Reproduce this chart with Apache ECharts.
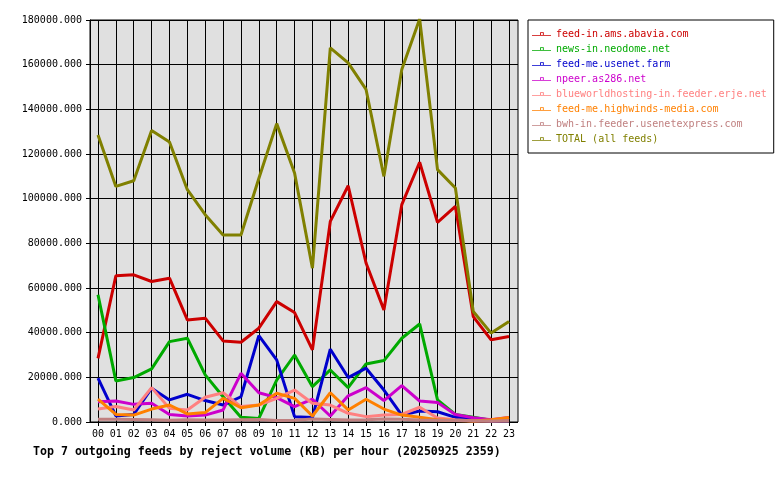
<!DOCTYPE html>
<html><head><meta charset="utf-8">
<script src="https://cdn.jsdelivr.net/npm/echarts@6/dist/echarts.min.js"></script>
<style>html,body{margin:0;padding:0;background:#fff}#c{width:780px;height:480px}</style>
</head><body><div id="c"></div>
<script>
const hours = ['00','01','02','03','04','05','06','07','08','09','10','11','12','13','14','15','16','17','18','19','20','21','22','23'];
const feedNames = ['feed-in.ams.abavia.com','news-in.neodome.net','feed-me.usenet.farm','npeer.as286.net','blueworldhosting-in.feeder.erje.net','feed-me.highwinds-media.com','bwh-in.feeder.usenetexpress.com','TOTAL (all feeds)'];
const feedColors = ['#cc0000','#00aa00','#0000cc','#cc00cc','#ff8080','#ff8000','#c08080','#808000'];
const amsAbavia = [28500,65500,65900,62900,64400,45700,46500,36300,35700,42000,53900,49000,32300,89800,105800,71200,50200,97300,116300,89400,96500,47200,36800,38300];
const neodome = [57000,18400,19900,23800,36000,37500,21100,11300,2100,1600,18800,30000,15800,23300,15400,26000,27500,37500,43900,9900,3400,2100,800,500];
const usenetFarm = [19600,2700,3400,15100,9900,12400,9600,7600,11300,38700,27800,2400,2000,32600,19900,24100,14300,3100,4900,4600,2100,1000,500,500];
const as286 = [9100,9400,7900,8400,3400,2700,3100,5400,21800,13100,10900,6900,10200,2700,11700,15400,9600,16300,9400,8700,3400,1900,1000,2000];
const blueworld = [5800,6900,5400,15400,6100,5400,11100,13100,6900,7600,10600,14300,8400,7600,3900,2400,3100,3400,6600,1800,1000,500,500,500];
const highwinds = [10200,3400,3100,5800,7600,3600,4200,10600,6400,7600,12900,10600,2700,13100,5400,10200,5800,3100,2100,1000,700,500,1000,2000];
const usenetExpress = [1200,1200,1100,1000,800,1000,900,900,1000,1100,700,800,1300,1100,900,1000,1300,1200,900,800,700,600,500,700];
const total = [128500,105500,108000,130500,125400,104000,92800,83700,83700,109000,133600,111500,68900,167500,160800,148900,110000,157800,180500,113000,104800,49500,39800,45000];
const seriesData = [amsAbavia,neodome,usenetFarm,as286,blueworld,highwinds,usenetExpress,total];

const FONT = '"DejaVu Sans Mono", monospace';
const legendIcon = 'path://M0 4L9 4L9 1L13 1L13 4L21 4L21 5L0 5Z M10 2L10 4L12 4L12 2Z';
const chart = echarts.init(document.getElementById('c'), null, {renderer:'canvas'});
chart.setOption({
  animation:false,
  backgroundColor:'#fff',
  title:{text:'Top 7 outgoing feeds by reject volume (KB) per hour (20250925 2359)', left:28, top:441,
    textStyle:{fontFamily:FONT, fontSize:11.6, fontWeight:'bold', color:'#000'}},
  legend:{orient:'vertical', left:528, top:20, borderColor:'#000', borderWidth:1,
    padding:[9,7,9,4], itemGap:5, itemWidth:19, itemHeight:5, icon:legendIcon,
    textStyle:{fontFamily:FONT, fontSize:10},
    data: feedNames.map((n,i)=>({name:n, textStyle:{color:feedColors[i]}}))},
  grid:[
    {left:90, top:20, width:428, height:402, show:true, backgroundColor:'#e0e0e0', borderColor:'#000', borderWidth:1, containLabel:false},
    {left:98, top:20, width:411, height:402, containLabel:false}
  ],
  xAxis:[
    {gridIndex:0, type:'value', min:0, max:1, show:false},
    {gridIndex:1, type:'category', data:hours, boundaryGap:false,
      axisLine:{show:false},
      axisTick:{show:true, length:4, interval:0, lineStyle:{color:'#000'}},
      axisLabel:{interval:0, fontFamily:FONT, fontSize:10, color:'#000', margin:7},
      splitLine:{show:true, interval:0, lineStyle:{color:'#000', width:1}}}
  ],
  yAxis:[
    {gridIndex:0, type:'value', min:0, max:180000, interval:20000,
      axisLine:{show:true, lineStyle:{color:'#000'}},
      axisTick:{show:true, length:4, lineStyle:{color:'#000'}},
      axisLabel:{fontFamily:FONT, fontSize:10, color:'#000', margin:8, formatter:v=>v.toFixed(3)},
      splitLine:{show:true, lineStyle:{color:'#000', width:1}}},
    {gridIndex:1, type:'value', min:0, max:180000, show:false, splitLine:{show:false}}
  ],
  series: feedNames.map((n,i)=>({
    name:n, type:'line', xAxisIndex:1, yAxisIndex:1, data:seriesData[i],
    symbol:'emptyRect', symbolSize:[5,4], showSymbol:false,
    lineStyle:{color:feedColors[i], width:3}, itemStyle:{color:feedColors[i]},
    emphasis:{disabled:true}
  }))
});
</script></body></html>
